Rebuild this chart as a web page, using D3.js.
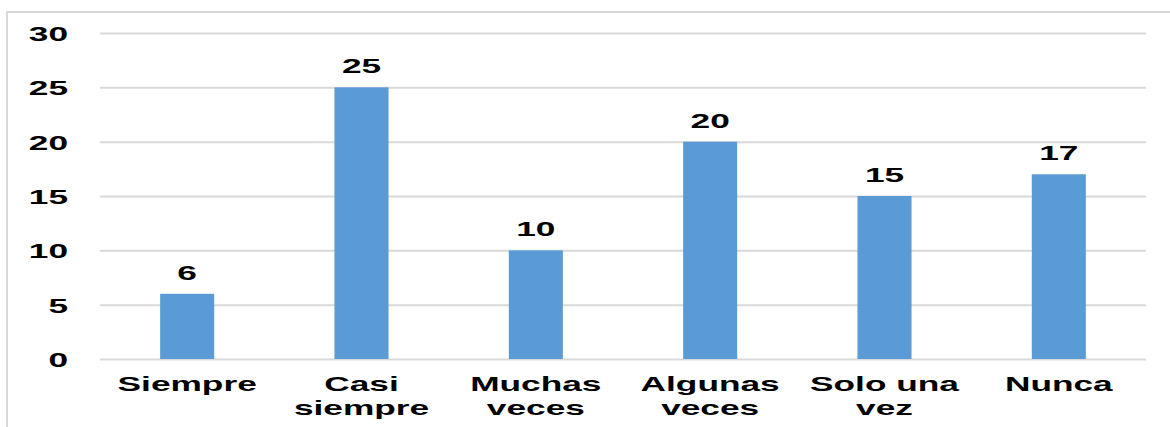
<!DOCTYPE html>
<html>
<head>
<meta charset="utf-8">
<script src="https://cdn.jsdelivr.net/npm/d3@7"></script>
<style>
  html, body { margin: 0; padding: 0; background: #fff; }
  svg { display: block; }
  text { font-family: "Liberation Sans", Arial, sans-serif; font-weight: bold; fill: #000; }
</style>
</head>
<body>
<svg id="chart" width="1170" height="427"></svg>
<script>
const categories = ["Siempre", "Casi siempre", "Muchas veces", "Algunas veces", "Solo una vez", "Nunca"];
const categoryLines = [["Siempre"], ["Casi", "siempre"], ["Muchas", "veces"], ["Algunas", "veces"], ["Solo una", "vez"], ["Nunca"]];
const values = [6, 25, 10, 20, 15, 17];
const yTicks = [0, 5, 10, 15, 20, 25, 30];

const W = 1170, H = 427;
const plot = { left: 100, right: 1146, top: 33, bottom: 359 };
const SX = 1.68;      // horizontal stretch of the text in the reference
const FS = 21;

const svg = d3.select("#chart");

// outer frame
svg.append("path")
  .attr("d", `M7,${H + 2} L7,12 L${W + 2},12`)
  .attr("fill", "none")
  .attr("stroke", "#D9D9D9")
  .attr("stroke-width", 2);

const x = d3.scaleBand().domain(categories).range([plot.left, plot.right]).paddingInner(0.69).paddingOuter(0.345);
const y = d3.scaleLinear().domain([0, 30]).range([plot.bottom, plot.top]);

// gridlines + y labels
const yAxis = svg.append("g")
  .attr("transform", `translate(${plot.left},0)`)
  .call(d3.axisLeft(y).tickValues(yTicks).tickSize(-(plot.right - plot.left)).tickFormat(d3.format("d")));
yAxis.select(".domain").remove();
yAxis.selectAll(".tick line").attr("stroke", "#D9D9D9").attr("stroke-width", 2);
yAxis.selectAll(".tick text")
  .attr("x", null).attr("dy", null)
  .attr("font-size", FS)
  .attr("text-anchor", "end")
  .attr("transform", `translate(-32,7.5) scale(${SX},1)`)
  .style("font-family", "'Liberation Sans', Arial, sans-serif")
  .style("font-weight", "bold")
  .attr("fill", "#000");

// bars
svg.append("g").selectAll("rect")
  .data(values)
  .join("rect")
  .attr("x", (d, i) => x(categories[i]))
  .attr("width", x.bandwidth())
  .attr("y", d => y(d))
  .attr("height", d => y(0) - y(d))
  .attr("fill", "#5B9BD5");

// data labels
svg.append("g").selectAll("text")
  .data(values)
  .join("text")
  .attr("font-size", FS)
  .attr("text-anchor", "middle")
  .attr("transform", (d, i) => `translate(${x(categories[i]) + x.bandwidth() / 2},${y(d) - 14}) scale(${SX},1)`)
  .text(d => d);

// x axis labels
const xAxis = svg.append("g")
  .attr("transform", `translate(0,${plot.bottom})`)
  .call(d3.axisBottom(x).tickSize(0).tickFormat(""));
xAxis.select(".domain").remove();
xAxis.selectAll(".tick").each(function(d, i) {
  const t = d3.select(this).append("text")
    .attr("font-size", FS)
    .attr("text-anchor", "middle")
    .attr("transform", `translate(0,32) scale(${SX},1)`);
  categoryLines[i].forEach((line, k) => {
    t.append("tspan").attr("x", 0).attr("y", k * 24).text(line);
  });
});
</script>
</body>
</html>
